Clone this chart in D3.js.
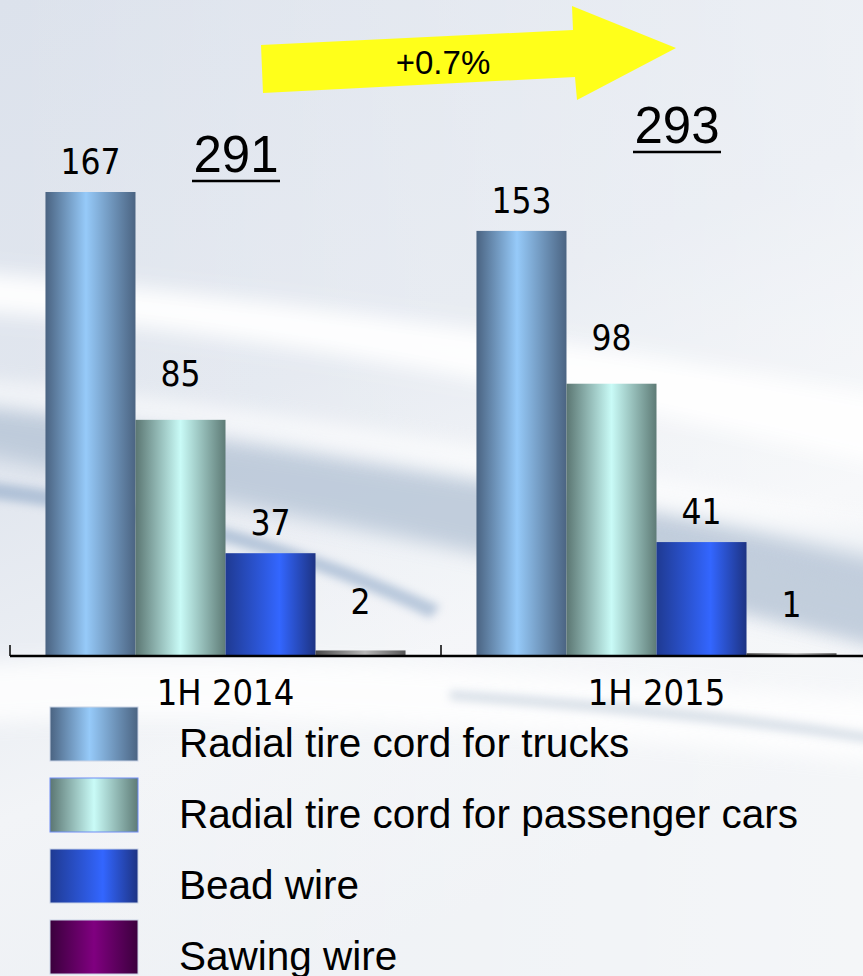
<!DOCTYPE html>
<html>
<head>
<meta charset="utf-8">
<script src="https://cdn.jsdelivr.net/npm/d3@7"></script>
<style>
  html, body { margin: 0; padding: 0; background: #fff; }
  svg { display: block; }
  .val-label, .cat-label { font-family: "DejaVu Sans Condensed", "DejaVu Sans", sans-serif; font-stretch: condensed; fill: #000; text-anchor: middle; }
  .total-label { font-family: "Liberation Sans", Arial, sans-serif; font-size: 51px; fill: #000; text-anchor: middle; }
  .legend-label { font-family: "Liberation Sans", Arial, sans-serif; font-size: 40.5px; fill: #000; }
</style>
</head>
<body>
<svg id="chart"></svg>
<script>
// ── Data ──
const categories = ["1H 2014", "1H 2015"];
const seriesNames = [
  "Radial tire cord for trucks",
  "Radial tire cord for passenger cars",
  "Bead wire",
  "Sawing wire"
];
const trucks = [167, 153];
const passenger = [85, 98];
const bead = [37, 41];
const sawing = [2, 1];
const totals = [291, 293];
const growthLabel = "+0.7%";

const seriesValues = [trucks, passenger, bead, sawing];

// ── Dimensions ──
const W = 863, H = 976;
const baseY = 656;

const svg = d3.select("#chart").attr("width", W).attr("height", H);
const defs = svg.append("defs");

// ── Gradients (left dark, light middle, right dark) ──
function hGrad(id, edgeL, mid, edgeR, midPos) {
  const g = defs.append("linearGradient").attr("id", id)
    .attr("x1", 0).attr("x2", 1).attr("y1", 0).attr("y2", 0);
  g.append("stop").attr("offset", "0%").attr("stop-color", edgeL);
  g.append("stop").attr("offset", midPos).attr("stop-color", mid);
  g.append("stop").attr("offset", "100%").attr("stop-color", edgeR);
}
hGrad("g-trucks", "#4a6381", "#96caf9", "#4b6482", "45%");
hGrad("g-pass", "#5b7672", "#c9fbf7", "#5e7b76", "50%");
hGrad("g-bead", "#1f3a92", "#3366ff", "#1d3383", "60%");
hGrad("g-saw-bar", "#4a4a4a", "#b8b8b8", "#555555", "55%");
hGrad("g-saw", "#3a003c", "#800080", "#3b003d", "50%");

const barFills = ["url(#g-trucks)", "url(#g-pass)", "url(#g-bead)", "url(#g-saw-bar)"];
const legendFills = ["url(#g-trucks)", "url(#g-pass)", "url(#g-bead)", "url(#g-saw)"];

// background
const bg = defs.append("linearGradient").attr("id", "bg")
  .attr("x1", 0).attr("x2", 0.35).attr("y1", 0).attr("y2", 1);
bg.append("stop").attr("offset", "0%").attr("stop-color", "#dce2ec");
bg.append("stop").attr("offset", "45%").attr("stop-color", "#e2e7ef");
bg.append("stop").attr("offset", "75%").attr("stop-color", "#f2f4f7");
bg.append("stop").attr("offset", "100%").attr("stop-color", "#edf0f4");

const bgR = defs.append("linearGradient").attr("id", "bgR")
  .attr("x1", 0).attr("x2", 1).attr("y1", 0).attr("y2", 0);
bgR.append("stop").attr("offset", "0%").attr("stop-color", "#ffffff").attr("stop-opacity", 0);
bgR.append("stop").attr("offset", "100%").attr("stop-color", "#ffffff").attr("stop-opacity", 0.4);

function blurFilter(id, sd) {
  defs.append("filter").attr("id", id)
    .attr("filterUnits", "userSpaceOnUse")
    .attr("x", -100).attr("y", -100).attr("width", W + 200).attr("height", H + 200)
    .append("feGaussianBlur").attr("stdDeviation", sd);
}
blurFilter("blur10", 10);
blurFilter("blur4", 4);

svg.append("rect").attr("width", W).attr("height", H).attr("fill", "url(#bg)");
svg.append("rect").attr("width", W).attr("height", H).attr("fill", "url(#bgR)");

// ── Background swooshes ──
const swoosh = svg.append("g");
swoosh.append("path")
  .attr("d", "M-40,450 C200,500 500,550 900,650 L900,540 C600,500 300,450 -40,400 Z")
  .attr("fill", "#b9c7d8").attr("opacity", 0.85).attr("filter", "url(#blur10)");
swoosh.append("path")
  .attr("d", "M-40,310 C250,330 560,390 900,470 L900,400 C600,345 300,300 -40,270 Z")
  .attr("fill", "#ffffff").attr("opacity", 0.95).attr("filter", "url(#blur10)");
swoosh.append("path")
  .attr("d", "M-40,400 C250,425 560,485 900,565 L900,530 C560,455 250,405 -40,380 Z")
  .attr("fill", "#ffffff").attr("opacity", 0.7).attr("filter", "url(#blur10)");
swoosh.append("path")
  .attr("d", "M-40,495 C150,515 300,555 430,618 L440,606 C300,542 150,500 -40,478 Z")
  .attr("fill", "#7f9cc0").attr("opacity", 0.5).attr("filter", "url(#blur4)");
swoosh.append("path")
  .attr("d", "M-40,665 C250,645 600,680 900,700 L900,765 C600,735 250,705 -40,725 Z")
  .attr("fill", "#ffffff").attr("opacity", 0.85).attr("filter", "url(#blur10)");
swoosh.append("path")
  .attr("d", "M450,690 C600,700 750,712 900,738 L900,748 C750,724 600,712 450,700 Z")
  .attr("fill", "#c3cfdc").attr("opacity", 0.6).attr("filter", "url(#blur4)");
swoosh.append("path")
  .attr("d", "M640,540 C740,560 800,575 900,600 L900,645 C800,620 740,600 640,580 Z")
  .attr("fill", "#c2cedc").attr("opacity", 0.8).attr("filter", "url(#blur10)");

// ── Scales ──
const x0 = d3.scaleBand().domain(categories).range([10, 872]).paddingInner(0).paddingOuter(0);
const x1 = d3.scaleBand().domain(d3.range(seriesNames.length)).range([0, x0.bandwidth()])
  .paddingInner(0).paddingOuter(0.394);
const y = d3.scaleLinear().domain([0, 167]).range([baseY, 192]);

// ── Bars ──
const groups = svg.selectAll(".cat")
  .data(categories)
  .join("g")
  .attr("class", "cat")
  .attr("transform", d => `translate(${x0(d)},0)`);

const labelLift = [18, 34, 18, 36];

groups.each(function (cat, ci) {
  const g = d3.select(this);
  const rows = seriesValues.map((vals, si) => ({ si, v: vals[ci] }));
  g.selectAll("rect.bar")
    .data(rows)
    .join("rect")
    .attr("class", "bar")
    .attr("x", d => x1(d.si))
    .attr("y", d => y(d.v))
    .attr("width", x1.bandwidth())
    .attr("height", d => baseY - y(d.v))
    .attr("fill", d => barFills[d.si]);
  g.selectAll("text.val-label")
    .data(rows)
    .join("text")
    .attr("class", "val-label")
    .attr("x", d => x1(d.si) + x1.bandwidth() / 2)
    .attr("y", d => y(d.v) - labelLift[d.si])
    .style("font-size", "35px")
    .text(d => d.v);
});

// ── Axis ──
const axis = svg.append("g").attr("transform", `translate(0,${baseY})`)
  .call(d3.axisBottom(x0).tickSize(0).tickFormat(""));
axis.select(".domain").remove();
svg.append("line").attr("x1", 10).attr("x2", W).attr("y1", baseY).attr("y2", baseY)
  .attr("stroke", "#000").attr("stroke-width", 2.5);
svg.selectAll(".sep")
  .data([...categories.map(c => x0(c)), x0.range()[1]])
  .join("line")
  .attr("class", "sep")
  .attr("x1", d => d).attr("x2", d => d)
  .attr("y1", baseY - 11).attr("y2", baseY)
  .attr("stroke", "#000").attr("stroke-width", 1.5);

svg.selectAll(".cat-label")
  .data(categories)
  .join("text")
  .attr("class", "cat-label")
  .attr("x", d => x0(d) + x0.bandwidth() / 2)
  .attr("y", 705)
  .style("font-size", "36px")
  .text(d => d);

// ── Totals ──
const totalX = [226, 236];
const totalY = [172, 143];
categories.forEach((c, i) => {
  const cx = x0(c) + totalX[i];
  svg.append("text").attr("class", "total-label")
    .attr("x", cx).attr("y", totalY[i]).text(totals[i]);
  svg.append("line")
    .attr("x1", cx - 44).attr("x2", cx + 44)
    .attr("y1", totalY[i] + 9).attr("y2", totalY[i] + 9)
    .attr("stroke", "#000").attr("stroke-width", 2.5);
});

// ── Growth arrow ──
svg.append("polygon")
  .attr("points", [[261, 45], [573, 30], [572, 6], [676, 48], [577, 100], [575, 77], [263, 93]].join(" "))
  .attr("fill", "#ffff1a");
svg.append("text")
  .attr("x", 443).attr("y", 74)
  .attr("text-anchor", "middle")
  .style("font-family", "'Liberation Sans', Arial, sans-serif")
  .style("font-size", "33px")
  .text(growthLabel);

// ── Legend ──
const legend = svg.selectAll(".legend-item")
  .data(seriesNames)
  .join("g")
  .attr("class", "legend-item")
  .attr("transform", (d, i) => `translate(50,${707 + i * 71})`);

legend.append("rect")
  .attr("width", 88).attr("height", 54)
  .attr("fill", (d, i) => legendFills[i])
  .attr("stroke", (d, i) => i === 1 ? "#6f8cf5" : "#c9d3e6")
  .attr("stroke-width", 1);

legend.append("text")
  .attr("class", "legend-label")
  .attr("x", 129).attr("y", 50)
  .text(d => d);
</script>
</body>
</html>
